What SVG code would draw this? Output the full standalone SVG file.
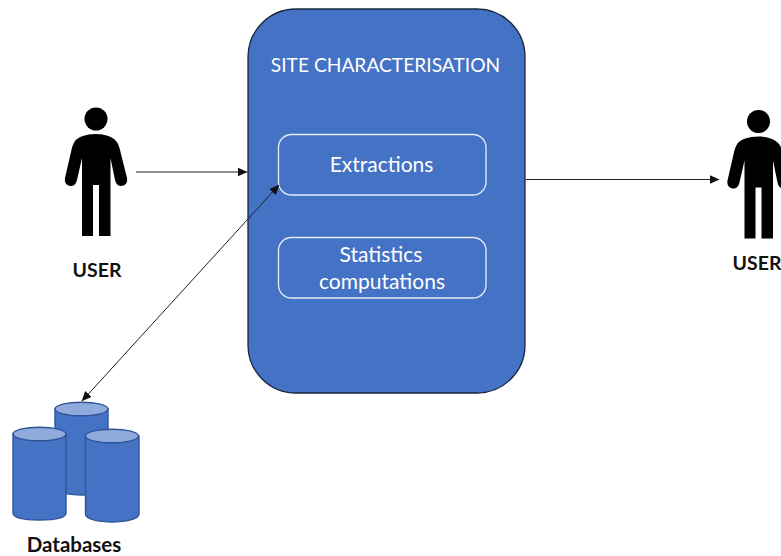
<svg xmlns="http://www.w3.org/2000/svg" width="781" height="556" viewBox="0 0 781 556">
<style>
text{font-family:"Lato","Open Sans","Liberation Sans",sans-serif;text-anchor:middle}
.w{fill:#fff;font-size:21px}
.s{font-size:19.200px}
.k{fill:#111;font-size:19.500px;font-weight:700}
.d{font-size:20.500px}
.in{fill:#4472c4;stroke:#e8eef8;stroke-width:1.3}
.cyl{fill:#4472c4;stroke:#2f5597;stroke-width:1.4}
.top{fill:#8faadc;stroke:#2f5597;stroke-width:1.4}
.c{fill:none;stroke:#222;stroke-width:1}
</style>
<defs>
<marker id="a" markerUnits="userSpaceOnUse" markerWidth="10" markerHeight="9" refX="9.500" refY="4.500" orient="auto-start-reverse"><path d="M0 0L10 4.500L0 9Z" fill="#111"/></marker>
<g id="person">
<circle cx="96" cy="119" r="11.500"/>
<path d="M96 134C86 134 78 137 75 141C73 144 72 147 71 152L65 178C64 184 68 186 71 186C74 186 76 184 77 180L82 158V236H93V185H99V236H110.500V158L115 180C116 184 118 186 121 186C125 186 128 183 127 178L120 150C119 146 118 143 116 141C113 137 105 134 96 134Z"/>
</g>
</defs>
<g id="site">
<rect x="248" y="9" width="277" height="384" rx="48" fill="#4472c4" stroke="#17263f" stroke-width="1.3"/>
<text class="w s" x="385.500" y="72">SITE CHARACTERISATION</text>
</g>
<g id="extractions">
<rect class="in" x="278.500" y="134.500" width="207.500" height="60.500" rx="13"/>
<text class="w" x="381.500" y="172">Extractions</text>
</g>
<g id="statistics">
<rect class="in" x="278.500" y="237.500" width="207.500" height="60.500" rx="13"/>
<text class="w" x="381" y="262">Statistics</text>
<text class="w" x="382" y="289">computations</text>
</g>
<g id="user-left">
<use href="#person"/>
<text class="k" x="97" y="277">USER</text>
</g>
<g id="user-right">
<use href="#person" x="662.500" y="2.500"/>
<text class="k" x="757" y="270">USER</text>
</g>
<g id="databases">
<path class="cyl" d="M55 409V487C55 492 67 495 82 495C97 495 108 492 108 487V409Z"/>
<ellipse class="top" cx="81.500" cy="409" rx="26.500" ry="6.800"/>
<path class="cyl" d="M13 434V513C13 518 25 520 39.500 520C54 520 66 518 66 513V434Z"/>
<ellipse class="top" cx="39.500" cy="434" rx="26.500" ry="6.800"/>
<path class="cyl" d="M85.500 436V514C85.500 519 98 522 112 522C126 522 139 519 139 514V436Z"/>
<ellipse class="top" cx="112" cy="436" rx="26.500" ry="6.800"/>
<text class="k d" x="74" y="552">Databases</text>
</g>
<g id="connectors">
<path class="c" d="M136 172H247" marker-end="url(#a)"/>
<path class="c" d="M526 179.500H719" marker-end="url(#a)"/>
<path class="c" d="M279 185L82 401" marker-start="url(#a)" marker-end="url(#a)"/>
</g>
</svg>
